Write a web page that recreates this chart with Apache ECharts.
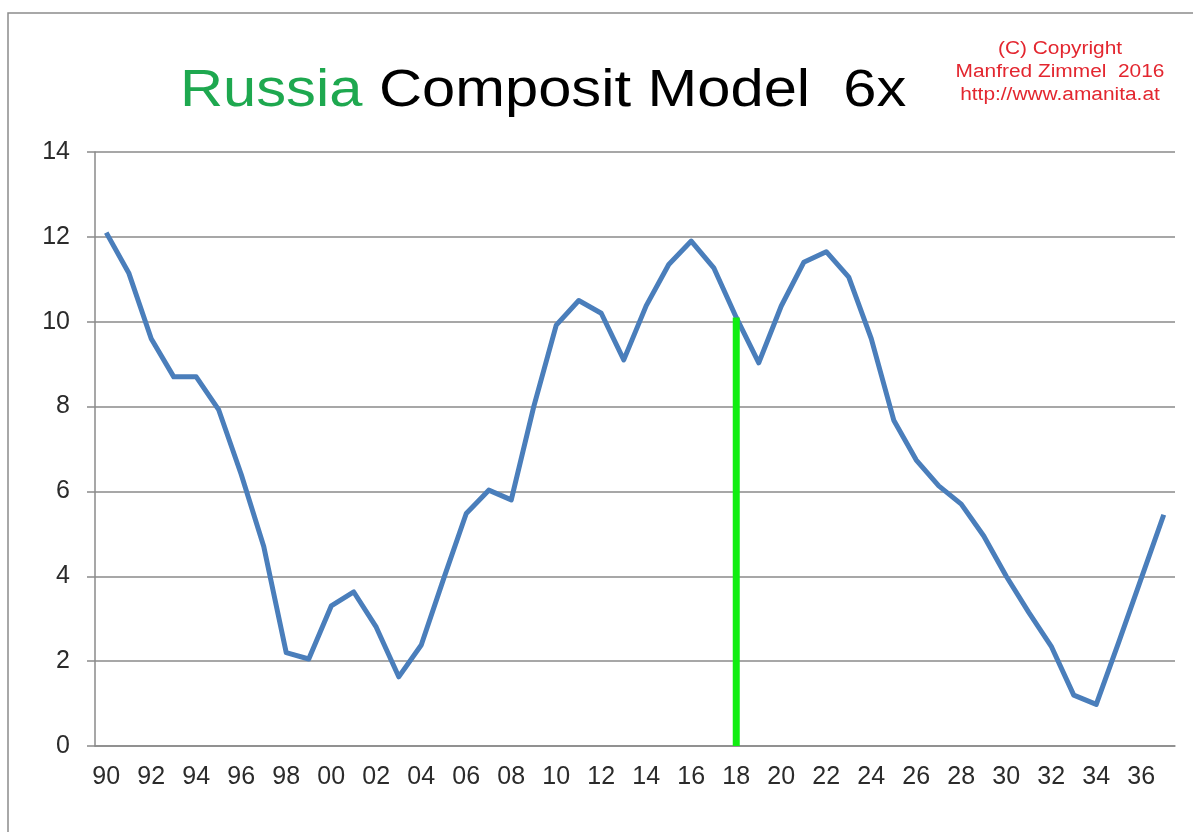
<!DOCTYPE html>
<html>
<head>
<meta charset="utf-8">
<script src="https://cdn.jsdelivr.net/npm/echarts@6/dist/echarts.min.js"></script>
<style>
    html, body { margin: 0; padding: 0; background: #fff; }
    #chart { width: 1193px; height: 832px; }
</style>
</head>
<body>
<div id="chart"></div>
<script>
// years 1990 - 2037, two-digit labels
const years = ['90', '91', '92', '93', '94', '95', '96', '97', '98', '99',
    '00', '01', '02', '03', '04', '05', '06', '07', '08', '09',
    '10', '11', '12', '13', '14', '15', '16', '17', '18', '19',
    '20', '21', '22', '23', '24', '25', '26', '27', '28', '29',
    '30', '31', '32', '33', '34', '35', '36', '37']

const model = [12.1, 11.15, 9.6, 8.7, 8.7, 7.92, 6.4, 4.7, 2.2, 2.05,
    3.3, 3.63, 2.8, 1.63, 2.38, 3.95, 5.48, 6.03, 5.8, 8.0,
    9.92, 10.5, 10.2, 9.1, 10.38, 11.35, 11.9, 11.27, 10.1, 9.03,
    10.37, 11.4, 11.65, 11.05, 9.6, 7.68, 6.74, 6.13, 5.7, 4.95,
    4.0, 3.15, 2.35, 1.2, 0.98, 2.45, 3.95, 5.45]

// "now" marker
const markerYear = '18'
const markerTop = 10.1

const yTicks = { min: 0, max: 14, step: 2 }

const chart = echarts.init(document.getElementById('chart'))

const gridColor = '#8a8a8a'
const labelFont = 'Liberation Sans, Arial, sans-serif'

chart.setOption({
    animation: false,
    backgroundColor: '#fff',
    graphic: [
        {
            type: 'rect',
            shape: { x: 8, y: 13, width: 1300, height: 1000 },
            style: { fill: 'none', stroke: '#8c8c8c', lineWidth: 1.5 },
            silent: true
        },
        {
            type: 'text',
            x: 180,
            y: 92,
            scaleX: 1.17,
            style: {
                text: '{g|Russia }{b|Composit Model  6x}',
                align: 'left',
                verticalAlign: 'middle',
                rich: {
                    g: { fontFamily: labelFont, fontSize: 51, fill: '#1ea84f' },
                    b: { fontFamily: labelFont, fontSize: 51, fill: '#000' }
                }
            }
        },
        {
            type: 'text',
            x: 1060,
            y: 72,
            scaleX: 1.16,
            style: {
                text: '(C) Copyright\nManfred Zimmel  2016\nhttp://www.amanita.at',
                align: 'center',
                verticalAlign: 'middle',
                fontFamily: labelFont,
                fontSize: 18,
                lineHeight: 23,
                fill: '#e3262f'
            }
        }
    ],
    grid: { left: 95, right: 18, top: 152, bottom: 86, containLabel: false, outerBoundsMode: 'none' },
    xAxis: {
        type: 'category',
        data: years,
        boundaryGap: true,
        axisLine: { lineStyle: { color: gridColor, width: 1.5 } },
        axisTick: { interval: 1, length: 8, lineStyle: { color: gridColor, width: 1.5 } },
        axisLabel: {
            interval: 1,
            margin: 19,
            fontSize: 25,
            fontFamily: labelFont,
            color: '#2b2b2b'
        },
        splitLine: { show: false }
    },
    yAxis: {
        type: 'value',
        min: yTicks.min,
        max: yTicks.max,
        interval: yTicks.step,
        axisLine: { show: true, lineStyle: { color: gridColor, width: 1.5 } },
        axisTick: { show: true, length: 8, lineStyle: { color: gridColor, width: 1.5 } },
        axisLabel: {
            margin: 25,
            fontSize: 25,
            fontFamily: labelFont,
            color: '#2b2b2b'
        },
        splitLine: { lineStyle: { color: gridColor, width: 1.5 } }
    },
    series: [
        {
            name: 'Composit Model',
            type: 'line',
            data: model,
            symbol: 'none',
            lineStyle: { color: '#4a7ebb', width: 5, join: 'round' },
            z: 3
        },
        {
            name: 'marker',
            type: 'line',
            data: [[markerYear, 0], [markerYear, markerTop]],
            symbol: 'none',
            lineStyle: { color: '#11ee11', width: 7 },
            z: 4
        }
    ]
})
</script>
</body>
</html>
